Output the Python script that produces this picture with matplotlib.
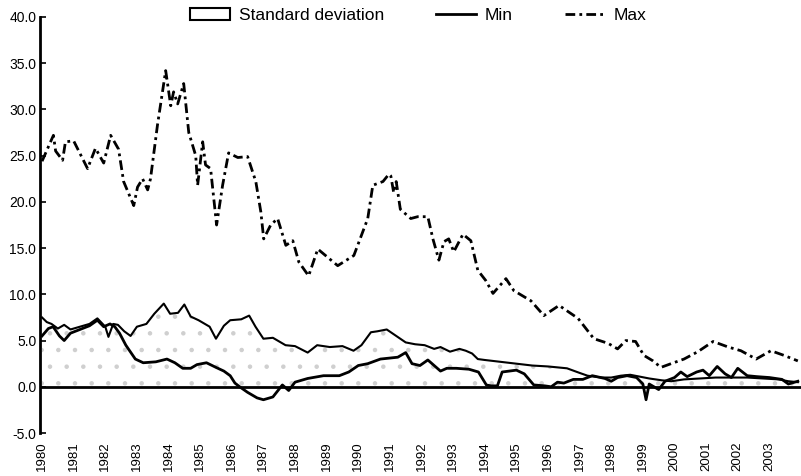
"""
Dispersion of returns — standard deviation band with min / max series
"""

import matplotlib
matplotlib.use("Agg")
import matplotlib.pyplot as plt
from matplotlib.patches import Patch
from matplotlib.lines import Line2D

plt.rcParams["font.family"] = ["Liberation Sans", "DejaVu Sans"]
plt.rcParams["hatch.linewidth"] = 0.8

# Max series (dash-dot)
max_years = [1980.0, 1980.36, 1980.43, 1980.65, 1980.74, 1981.0, 1981.44, 1981.69, 1981.95,
             1982.17, 1982.42, 1982.58, 1982.9, 1983.02, 1983.18, 1983.34, 1983.43, 1983.65,
             1983.91, 1984.07, 1984.16, 1984.29, 1984.48, 1984.64, 1984.86, 1984.92, 1985.08,
             1985.17, 1985.33, 1985.52, 1985.71, 1985.9, 1986.19, 1986.5, 1986.76, 1986.92,
             1987.01, 1987.23, 1987.45, 1987.71, 1987.93, 1988.12, 1988.43, 1988.72, 1989.35,
             1989.86, 1990.3, 1990.46, 1990.78, 1990.97, 1991.03, 1991.12, 1991.2, 1991.33,
             1991.66, 1991.88, 1992.2, 1992.36, 1992.55, 1992.71, 1992.86, 1993.02, 1993.31,
             1993.56, 1993.78, 1994.03, 1994.26, 1994.67, 1994.92, 1995.46, 1995.87, 1996.35,
             1996.95, 1997.45, 1997.9, 1998.2, 1998.46, 1998.77, 1999.03, 1999.32, 1999.57,
             1999.89, 2000.3, 2000.74, 2001.22, 2001.7, 2002.1, 2002.58, 2003.05, 2003.46, 2003.9]
max_vals = [24.4, 27.2, 25.5, 24.5, 26.5, 26.6, 23.6, 25.8, 24.2,
            27.2, 25.7, 22.2, 19.6, 21.6, 22.5, 21.3, 22.5, 28.3,
            34.2, 30.4, 31.9, 30.6, 32.8, 27.5, 25.0, 21.8, 26.5,
            24.0, 23.6, 17.5, 21.8, 25.3, 24.8, 24.9, 22.2, 18.9,
            16.0, 17.5, 18.2, 15.3, 15.8, 13.5, 12.0, 14.9, 13.1,
            14.2, 18.2, 21.8, 22.2, 23.0, 22.8, 21.0, 22.2, 19.2,
            18.2, 18.4, 18.4, 16.0, 13.7, 15.7, 16.0, 14.6, 16.5,
            15.8, 12.6, 11.5, 10.1, 11.7, 10.4, 9.3, 7.7, 8.8,
            7.4, 5.2, 4.7, 4.1, 5.0, 4.9, 3.4, 2.8, 2.1,
            2.5, 3.0, 3.8, 4.9, 4.3, 3.9, 3.0, 3.9, 3.4, 2.8]

# Standard deviation (stippled band from zero)
std_years = [1980.0, 1980.15, 1980.3, 1980.5, 1980.7, 1980.9, 1981.2, 1981.5, 1981.75,
             1982.0, 1982.1, 1982.25, 1982.4, 1982.6, 1982.8, 1983.0, 1983.3, 1983.55,
             1983.85, 1984.05, 1984.3, 1984.5, 1984.7, 1984.95, 1985.1, 1985.3, 1985.5,
             1985.75, 1985.95, 1986.3, 1986.55, 1986.75, 1987.0, 1987.3, 1987.5, 1987.7,
             1988.0, 1988.4, 1988.7, 1989.1, 1989.5, 1989.85, 1990.1, 1990.4, 1990.6,
             1990.9, 1991.2, 1991.5, 1991.8, 1992.1, 1992.4, 1992.6, 1992.9, 1993.2,
             1993.4, 1993.6, 1993.78, 1994.0, 1994.5, 1995.0, 1995.5, 1996.0, 1996.6,
             1997.0, 1997.25, 1997.7, 1998.0, 1998.3, 1998.6, 1998.9, 1999.2, 1999.6,
             1999.9, 2000.3, 2000.8, 2001.3, 2001.8, 2002.3, 2002.8, 2003.3, 2003.6, 2003.9]
std_vals = [7.5, 7.0, 6.8, 6.3, 6.7, 6.2, 6.5, 6.8, 7.4,
            6.5, 5.4, 6.8, 6.7, 6.0, 5.5, 6.5, 6.8, 7.9,
            9.0, 7.9, 8.0, 8.9, 7.6, 7.2, 6.9, 6.5, 5.2,
            6.6, 7.2, 7.3, 7.7, 6.5, 5.2, 5.3, 4.9, 4.5,
            4.4, 3.7, 4.5, 4.3, 4.4, 3.9, 4.5, 5.9, 6.0,
            6.2, 5.5, 4.8, 4.6, 4.5, 4.1, 4.3, 3.8, 4.1,
            3.9, 3.6, 3.0, 2.9, 2.7, 2.5, 2.3, 2.2, 2.0,
            1.5, 1.2, 1.0, 1.0, 1.2, 1.3, 1.1, 0.9, 0.7,
            0.6, 0.8, 0.9, 1.0, 1.0, 1.0, 0.9, 0.8, 0.6, 0.5]

# Min series (solid)
min_years = [1980.0, 1980.2, 1980.35, 1980.55, 1980.7, 1980.9, 1981.2, 1981.5, 1981.75,
             1981.95, 1982.15, 1982.3, 1982.45, 1982.65, 1982.95, 1983.2, 1983.6, 1983.95,
             1984.2, 1984.45, 1984.7, 1984.9, 1985.2, 1985.5, 1985.75, 1985.95, 1986.1,
             1986.25, 1986.5, 1986.8, 1987.0, 1987.3, 1987.6, 1987.8, 1988.0, 1988.4,
             1988.9, 1989.4, 1989.7, 1990.0, 1990.3, 1990.7, 1991.25, 1991.5, 1991.7,
             1991.95, 1992.2, 1992.6, 1992.8, 1993.1, 1993.5, 1993.8, 1994.05, 1994.2,
             1994.4, 1994.55, 1995.0, 1995.25, 1995.55, 1995.9, 1996.1, 1996.3, 1996.5,
             1996.8, 1997.1, 1997.4, 1997.8, 1998.0, 1998.2, 1998.5, 1998.8, 1999.0,
             1999.1, 1999.2, 1999.5, 1999.7, 2000.0, 2000.2, 2000.4, 2000.7, 2000.9,
             2001.1, 2001.35, 2001.6, 2001.8, 2002.0, 2002.3, 2002.6, 2003.0, 2003.4,
             2003.6, 2003.9]
min_vals = [5.5, 6.3, 6.5, 5.5, 5.0, 5.8, 6.2, 6.6, 7.2,
            6.5, 6.8, 6.5, 5.8, 4.5, 3.0, 2.6, 2.7, 3.0,
            2.6, 2.0, 2.0, 2.4, 2.6, 2.1, 1.7, 1.2, 0.4,
            0.0, -0.6, -1.2, -1.4, -1.1, 0.2, -0.4, 0.5, 0.9,
            1.2, 1.2, 1.6, 2.3, 2.5, 3.0, 3.2, 3.7, 2.5,
            2.3, 2.9, 1.7, 2.0, 2.0, 1.9, 1.6, 0.2, 0.1,
            0.1, 1.6, 1.8, 1.4, 0.2, 0.1, 0.0, 0.5, 0.4,
            0.8, 0.8, 1.2, 0.9, 0.6, 1.0, 1.2, 1.0, 0.3,
            -1.4, 0.3, -0.3, 0.6, 1.0, 1.6, 1.1, 1.6, 1.8,
            1.2, 2.2, 1.4, 1.0, 2.0, 1.2, 1.1, 1.0, 0.8,
            0.3, 0.6]

year_ticks = list(range(1980, 2004))

fig = plt.figure(figsize=(8.01, 4.76), dpi=100)
ax = fig.add_axes([0.0505, 0.0903, 0.9495, 0.874])

# stippled band + outline
ax.fill_between(std_years, 0, std_vals, facecolor="white", edgecolor="#cfcfcf",
                hatch=".", linewidth=0)
ax.plot(std_years, std_vals, color="black", lw=1.5)
ax.plot(min_years, min_vals, color="black", lw=2.0)
ax.plot(max_years, max_vals, color="black", lw=2.0, linestyle=(0, (3.5, 1.5, 1, 1.5)))
ax.axhline(0, color="black", lw=2.0)

ax.set_xlim(1979.95, 2004.0)
ax.set_ylim(-5, 40)
ax.set_yticks(range(-5, 41, 5))
ax.set_yticklabels([f"{v:.1f}" for v in range(-5, 41, 5)], fontsize=10)
ax.set_xticks(year_ticks)
ax.set_xticklabels([str(y) for y in year_ticks], rotation=90, fontsize=9.5)
ax.tick_params(axis="y", direction="in", length=4, width=1.2, pad=3)
ax.tick_params(axis="x", length=0, pad=6)

for side in ["top", "right", "bottom"]:
    ax.spines[side].set_visible(False)
ax.spines["left"].set_linewidth(2.0)

handles = [
    Patch(facecolor="white", edgecolor="black", linewidth=1.5),
    Line2D([], [], color="black", lw=2.0),
    Line2D([], [], color="black", lw=2.0, linestyle=(0, (3.5, 1.5, 1, 1.5))),
]
fig.legend(handles, ["Standard deviation", "Min", "Max"], loc="center",
           bbox_to_anchor=(0.522, 0.968), ncol=3, frameon=False, fontsize=12.5,
           handlelength=2.3, handletextpad=0.5, columnspacing=3.0,
           borderaxespad=0, borderpad=0)

fig.savefig("out.png", dpi=100)
